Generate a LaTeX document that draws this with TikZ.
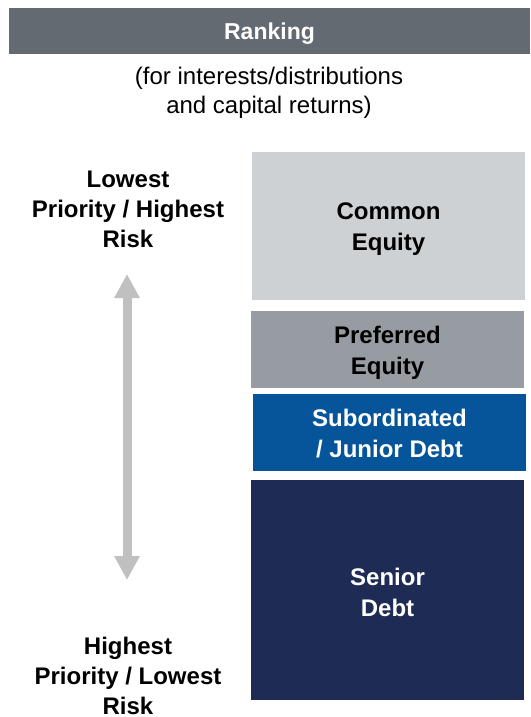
\documentclass[tikz,border=0pt]{standalone}
\usepackage{fontspec}
\setmainfont{Liberation Sans}
\usetikzlibrary{arrows.meta}
\definecolor{hdrgray}{HTML}{646A72}
\definecolor{commonc}{HTML}{CDD1D4}
\definecolor{prefc}{HTML}{979CA3}
\definecolor{subc}{HTML}{06559A}
\definecolor{seniorc}{HTML}{1E2B55}
\definecolor{arrowc}{HTML}{C0C0C0}
\tikzset{
  blk/.style={rectangle, inner sep=0pt, outer sep=0pt, draw=none},
  blktxt/.style={align=center, inner sep=0pt, font=\fontsize{24}{31}\selectfont\bfseries},
  sidetxt/.style={align=center, inner sep=0pt, font=\fontsize{24}{30}\selectfont\bfseries},
  subtxt/.style={align=center, inner sep=0pt, font=\fontsize{24}{29}\selectfont},
  bigarrow/.style={draw=arrowc, line width=9pt,
    {Triangle[length=24pt,width=24pt]}-{Triangle[length=24pt,width=24pt]}}
}
\begin{document}
\begin{tikzpicture}[x=1pt,y=-1pt]
\useasboundingbox (0,0) rectangle (530,717);
% header
\node[blk, fill=hdrgray, minimum width=521pt, minimum height=46pt] (hdr) at (269.5,31) {};
\node[text=white, inner sep=0pt, font=\fontsize{23}{27}\selectfont\bfseries, yshift=-2.5pt] (hdrtxt) at (hdr.center) {Ranking};
\node[subtxt] (sub) at (269,93) {(for interests/distributions\\and capital returns)};
% stack
\node[blk, fill=commonc, minimum width=273pt, minimum height=148pt] (common) at (388.5,226) {};
\node[blk, fill=prefc, minimum width=273pt, minimum height=77pt] (pref) at (387.5,349.5) {};
\node[blk, fill=subc, minimum width=273pt, minimum height=77pt] (subd) at (389.5,432.5) {};
\node[blk, fill=seniorc, minimum width=273pt, minimum height=220pt] (senior) at (387.5,590) {};
\node[blktxt, yshift=-3.5pt] (commontxt) at (common.center) {Common\\Equity};
\node[blktxt, yshift=-3.5pt] (preftxt) at (pref.center) {Preferred\\Equity};
\node[blktxt, text=white, yshift=-1pt] (subdtxt) at (subd.center) {Subordinated\\/ Junior Debt};
\node[blktxt, text=white, yshift=-2pt] (seniortxt) at (senior.center) {Senior\\Debt};
% side labels
\node[sidetxt] (low) at (128,209) {Lowest\\Priority / Highest\\Risk};
\node[sidetxt] (high) at (128,676) {Highest\\Priority / Lowest\\Risk};
% arrow
\coordinate (atop) at (127,274);
\coordinate (abot) at (127,580);
\draw[bigarrow] (atop) -- (abot);
\end{tikzpicture}
\end{document}
